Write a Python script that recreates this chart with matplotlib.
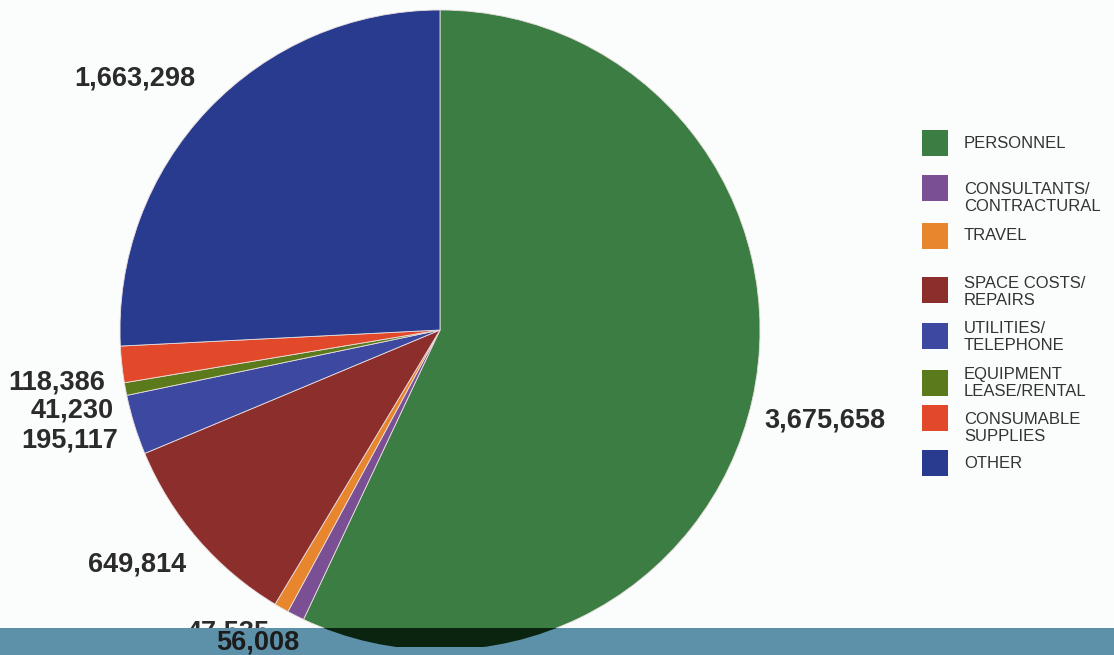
import matplotlib
matplotlib.use("Agg")
import matplotlib.pyplot as plt
from matplotlib.patches import Rectangle

plt.rcParams['font.family'] = ['Liberation Sans', 'DejaVu Sans']

# budget categories (legend order, drawn clockwise from 12 o'clock)
categories = ['PERSONNEL', 'CONSULTANTS/\nCONTRACTURAL', 'TRAVEL',
              'SPACE COSTS/\nREPAIRS', 'UTILITIES/\nTELEPHONE',
              'EQUIPMENT\nLEASE/RENTAL', 'CONSUMABLE\nSUPPLIES', 'OTHER']
amounts = [3675658, 56008, 47535, 649814, 195117, 41230, 118386, 1663298]
colors = ['#3b7d43', '#7b4f94', '#e8862e', '#8c2e2c', '#3d48a0',
          '#5a7a1c', '#e2492a', '#283b8e']

# label anchor points in pixels (layout only)
label_px = [(825, 420), (258, 642), (228, 632), (137, 565),
            (70, 441), (72, 410), (57, 383), (135, 78)]

W, H = 1114, 655
fig = plt.figure(figsize=(W / 100, H / 100), dpi=100)
fig.patch.set_facecolor('#fbfcfc')

cx, cy, r = 440, 330, 320
pie_rect = [(cx - r) / W, (H - cy - r) / H, 2 * r / W, 2 * r / H]
ax = fig.add_axes(pie_rect)
ax.pie(amounts, colors=colors, startangle=90, counterclock=False,
       wedgeprops=dict(edgecolor='#e9dede', linewidth=0.6))
ax.set_xlim(-1, 1)
ax.set_ylim(-1, 1)
ax.set_aspect('equal')
ax.axis('off')

for val, (px, py) in zip(amounts, label_px):
    if val == 56008:
        continue
    fig.text(px / W, 1 - py / H, f'{val:,}', ha='center', va='center',
             fontsize=19.5, fontweight='bold', color='#2b2b2b')

# bottom taskbar strip covering the pie
bar_top = 628
fig.patches.append(Rectangle((0, 0), 1, (H - bar_top) / H, transform=fig.transFigure,
                             facecolor='#5d91a9', edgecolor='none', zorder=5))
ax2 = fig.add_axes(pie_rect, zorder=6)
ax2.patch.set_alpha(0)
wedges, _ = ax2.pie(amounts, colors=['#0b2410'] * len(amounts), startangle=90,
                    counterclock=False)
clip = Rectangle((0, 8 / H), 1, (H - bar_top - 8) / H, transform=fig.transFigure)
for w in wedges:
    w.set_clip_on(True)
    w.set_clip_path(clip)
ax2.set_xlim(-1, 1)
ax2.set_ylim(-1, 1)
ax2.set_aspect('equal')
ax2.axis('off')

px, py = label_px[1]
fig.text(px / W, 1 - py / H, f'{amounts[1]:,}', ha='center', va='center',
         fontsize=19.5, fontweight='bold', color='#1c1c1c', zorder=7)

# legend, drawn by hand to match the uneven spacing
leg_y = [143, 188, 236, 290, 336, 383, 418, 463]
text_y = [143, 198, 236, 292, 337, 383, 428, 463]
for name, c, ly, ty in zip(categories, colors, leg_y, text_y):
    fig.patches.append(Rectangle((922 / W, 1 - (ly + 13) / H), 26 / W, 26 / H,
                                 transform=fig.transFigure, facecolor=c,
                                 edgecolor='none'))
    fig.text(964 / W, 1 - ty / H, name, ha='left', va='center', fontsize=12,
             color='#333333', linespacing=1.1)

fig.savefig('out.png', dpi=100, facecolor=fig.get_facecolor())
